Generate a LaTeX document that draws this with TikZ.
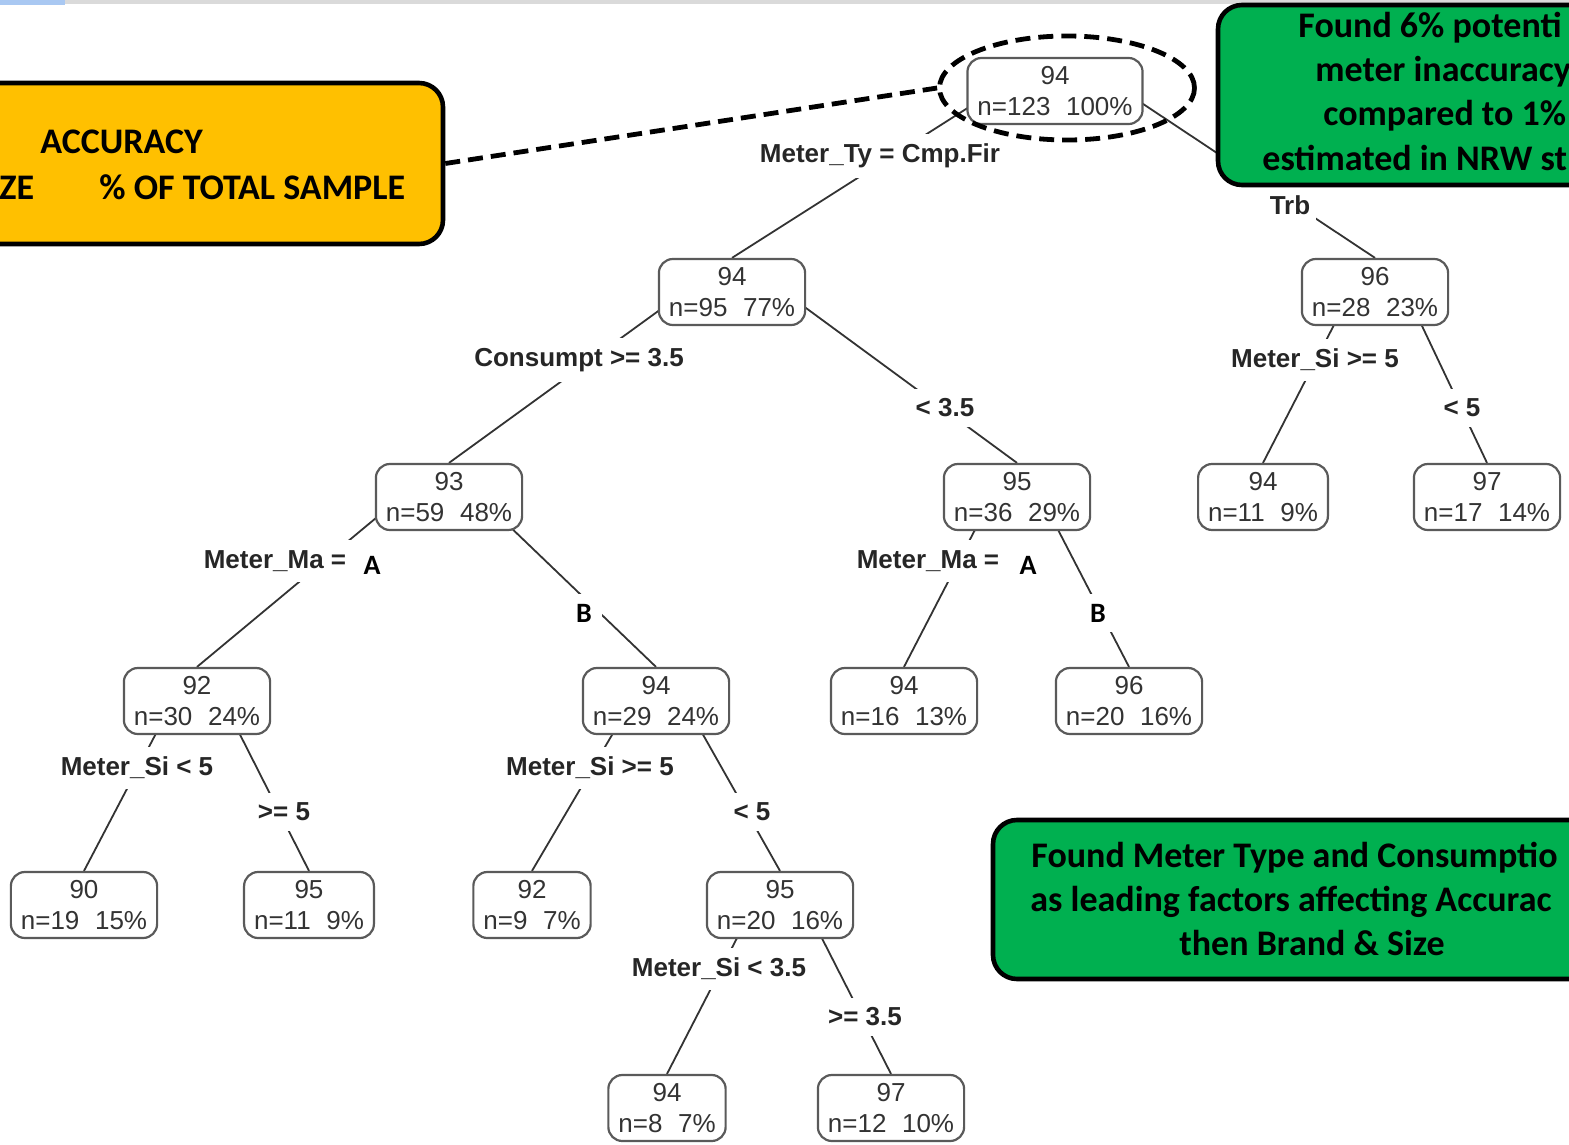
\documentclass[tikz,border=0pt]{standalone}
\usepackage{fontspec}
\setmainfont{Liberation Sans}
\newfontfamily\callfont{Carlito}
\usetikzlibrary{calc,backgrounds,shapes.geometric}
\definecolor{ygold}{HTML}{FFC000}
\definecolor{cgreen}{HTML}{00B050}
\definecolor{treeline}{HTML}{333333}
\definecolor{boxline}{HTML}{5A5A5A}
\definecolor{topgray}{HTML}{DADADA}
\definecolor{topblue}{HTML}{A9C8F2}
\begin{document}
\begin{tikzpicture}[x=0.5pt,y=-0.5pt,
  tnode/.style={draw=boxline, line width=1.1pt, rounded corners=7pt, fill=white, align=center,
    inner xsep=5pt, inner ysep=2pt, minimum height=33pt,
    font=\fontsize{13}{15.5}\selectfont, text=black!80},
  slabel/.style={fill=white, inner xsep=3pt, inner ysep=5pt,
    font=\bfseries\fontsize{13}{15}\selectfont, text=black!85},
  ablabel/.style={fill=white, inner sep=5pt, font=\callfont\bfseries\fontsize{14}{16}\selectfont, text=black},
  edge/.style={draw=treeline, line width=0.9pt},
  callout/.style={draw=black, line width=2.3pt, rounded corners=12pt},
  ctext/.style={font=\callfont\bfseries\fontsize{18}{22}\selectfont, text=black, inner sep=0pt},
  hilite/.style={draw=black, line width=2.4pt, dash pattern=on 7.5pt off 4pt},
]
\useasboundingbox (0,0) rectangle (1569,1145);
\fill[topgray] (0,0) rectangle (1569,4);
\fill[topblue] (0,0) rectangle (65,5);

% tree nodes
\node[tnode] (root) at (1055,91) {94\\n=123\hspace{0.6em}100\%};
\node[tnode] (n95) at (732,292) {94\\n=95\hspace{0.6em}77\%};
\node[tnode] (n28) at (1375,292) {96\\n=28\hspace{0.6em}23\%};
\node[tnode] (n59) at (449,497) {93\\n=59\hspace{0.6em}48\%};
\node[tnode] (n36) at (1017,497) {95\\n=36\hspace{0.6em}29\%};
\node[tnode] (n11) at (1263,497) {94\\n=11\hspace{0.6em}9\%};
\node[tnode] (n17) at (1487,497) {97\\n=17\hspace{0.6em}14\%};
\node[tnode] (n30) at (197,701) {92\\n=30\hspace{0.6em}24\%};
\node[tnode] (n29) at (656,701) {94\\n=29\hspace{0.6em}24\%};
\node[tnode] (n16) at (904,701) {94\\n=16\hspace{0.6em}13\%};
\node[tnode] (n20b) at (1129,701) {96\\n=20\hspace{0.6em}16\%};
\node[tnode] (n19) at (84,905) {90\\n=19\hspace{0.6em}15\%};
\node[tnode] (n11b) at (309,905) {95\\n=11\hspace{0.6em}9\%};
\node[tnode] (n9) at (532,905) {92\\n=9\hspace{0.6em}7\%};
\node[tnode] (n20) at (780,905) {95\\n=20\hspace{0.6em}16\%};
\node[tnode] (n8) at (667,1108) {94\\n=8\hspace{0.6em}7\%};
\node[tnode] (n12) at (891,1108) {97\\n=12\hspace{0.6em}10\%};

% split labels
\node[slabel] (l1) at (880,156) {Meter\_Ty = Cmp.Fir};
\node[slabel] (l2) at (1290,205) {Trb};
\node[slabel] (l3) at (579,360) {Consumpt >= 3.5};
\node[slabel] (l4) at (945,408) {< 3.5};
\node[slabel] (l5) at (1315,360) {Meter\_Si >= 5};
\node[slabel] (l6) at (1462,408) {< 5};
\node[slabel] (l7) at (275,561) {Meter\_Ma =};
\node[ablabel] (a1) at (372,565) {A};
\node[ablabel] (b1) at (584,613) {B};
\node[slabel] (l8) at (928,561) {Meter\_Ma =};
\node[ablabel] (a2) at (1028,565) {A};
\node[ablabel] (b2) at (1098,613) {B};
\node[slabel] (l9) at (137,768) {Meter\_Si < 5};
\node[slabel] (l10) at (284,812) {>= 5};
\node[slabel] (l11) at (590,768) {Meter\_Si >= 5};
\node[slabel] (l12) at (752,812) {< 5};
\node[slabel] (l13) at (719,969) {Meter\_Si < 3.5};
\node[slabel] (l14) at (865,1017) {>= 3.5};

% edges behind nodes
\begin{pgfonlayer}{background}
\draw[edge] ($(root.center)+(-56,-3)$) -- (n95.north);
\draw[edge] ($(root.center)+(52,-11)$) -- (n28.north);
\draw[edge] ($(n95.center)+(-42,-4)$) -- (n59.north);
\draw[edge] ($(n95.center)+(44,-6)$) -- (n36.north);
\draw[edge] ($(n28.center)+(-22,-4)$) -- (n11.north);
\draw[edge] ($(n28.center)+(29,-4)$) -- (n17.north);
\draw[edge] ($(n59.center)+(-43,-4)$) -- (n30.north);
\draw[edge] ($(n59.center)+(31,1)$) -- (n29.north);
\draw[edge] ($(n36.center)+(-24,-2)$) -- (n16.north);
\draw[edge] ($(n36.center)+(23,-2)$) -- (n20b.north);
\draw[edge] ($(n30.center)+(-24,0)$) -- (n19.north);
\draw[edge] ($(n30.center)+(26,0)$) -- (n11b.north);
\draw[edge] ($(n29.center)+(-24,0)$) -- (n9.north);
\draw[edge] ($(n29.center)+(28,0)$) -- (n20.north);
\draw[edge] ($(n20.center)+(-26,0)$) -- (n8.north);
\draw[edge] ($(n20.center)+(25,0)$) -- (n12.north);
\end{pgfonlayer}

% callouts (clipped at the picture edges)
\begin{scope}
\clip (0,0) rectangle (1569,1145);
\node[callout, fill=ygold, minimum width=241.5pt, minimum height=80.5pt] (ybox) at (201.5,163.5) {};
\node[ctext, anchor=base west] (yt1) at (40,154) {ACCURACY};
\node[ctext, anchor=base west] (yt2) at (-1,199) {ZE};
\node[ctext, anchor=base west] (yt3) at (99,199) {\% OF TOTAL SAMPLE};

\node[callout, fill=cgreen, minimum width=211pt, minimum height=90pt] (g1) at (1429,95) {};
\node[ctext, anchor=base west] (gt1) at (1298,38) {Found 6\% potenti};
\node[ctext, anchor=base west] (gt2) at (1315,82) {meter inaccuracy};
\node[ctext, anchor=base west] (gt3) at (1323,126) {compared to 1\%};
\node[ctext, anchor=base west] (gt4) at (1262,170) {estimated in NRW st};

\node[callout, fill=cgreen, minimum width=323.5pt, minimum height=79.5pt] (g2) at (1316.5,899.5) {};
\node[ctext, anchor=base west] (ht1) at (1031,867) {Found Meter Type and Consumptio};
\node[ctext, anchor=base west] (ht2) at (1030,911) {as leading factors affecting Accurac};
\node[ctext, anchor=base] (ht3) at (1312,955) {then Brand \& Size};
\end{scope}

% highlight of the root
\node[hilite, ellipse, minimum width=127.5pt, minimum height=52pt] (ell) at (1067,88) {};
\draw[hilite] (ybox.east) -- (ell.west);
\end{tikzpicture}
\end{document}
